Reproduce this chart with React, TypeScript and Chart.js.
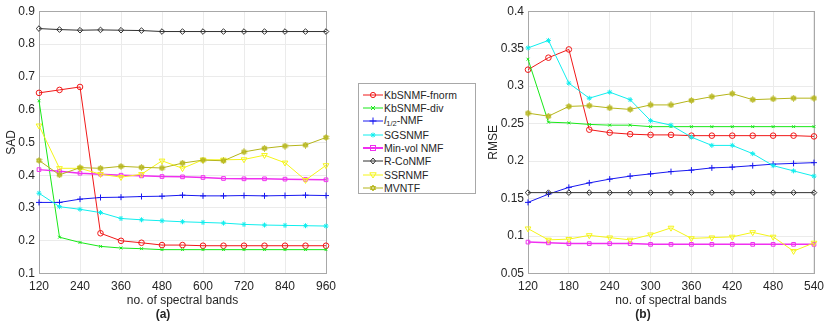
import React, { useEffect, useRef } from 'react';
import { Chart, registerables } from 'chart.js';
Chart.register(...registerables);

// ---------- data ----------
const sadBands = [120, 180, 240, 300, 360, 420, 480, 540, 600, 660, 720, 780, 840, 900, 960];
const rmseBands = [120, 150, 180, 210, 240, 270, 300, 330, 360, 390, 420, 450, 480, 510, 540];

const seriesNames = ['KbSNMF-fnorm', 'KbSNMF-div', 'l1/2-NMF', 'SGSNMF', 'Min-vol NMF', 'R-CoNMF', 'SSRNMF', 'MVNTF'];

const sadFnorm = [0.651, 0.660, 0.669, 0.223, 0.200, 0.194, 0.187, 0.187, 0.185, 0.185, 0.185, 0.185, 0.185, 0.185, 0.185];
const sadDiv = [0.627, 0.211, 0.195, 0.183, 0.178, 0.176, 0.173, 0.173, 0.173, 0.173, 0.173, 0.173, 0.173, 0.173, 0.173];
const sadL12 = [0.317, 0.317, 0.327, 0.332, 0.333, 0.335, 0.336, 0.339, 0.337, 0.337, 0.338, 0.337, 0.338, 0.339, 0.338];
const sadSgs = [0.345, 0.304, 0.296, 0.286, 0.268, 0.264, 0.261, 0.258, 0.256, 0.254, 0.250, 0.248, 0.247, 0.246, 0.245];
const sadMinVol = [0.417, 0.412, 0.406, 0.403, 0.400, 0.398, 0.396, 0.395, 0.393, 0.390, 0.389, 0.389, 0.388, 0.387, 0.386];
const sadRCo = [0.847, 0.844, 0.842, 0.843, 0.842, 0.841, 0.838, 0.838, 0.838, 0.838, 0.838, 0.838, 0.838, 0.838, 0.838];
const sadSsr = [0.551, 0.421, 0.421, 0.403, 0.394, 0.403, 0.444, 0.421, 0.447, 0.447, 0.448, 0.461, 0.438, 0.385, 0.430];
const sadMvntf = [0.445, 0.401, 0.423, 0.421, 0.427, 0.424, 0.422, 0.437, 0.446, 0.444, 0.471, 0.482, 0.489, 0.492, 0.515];

const rmseFnorm = [0.322, 0.338, 0.349, 0.242, 0.238, 0.236, 0.235, 0.235, 0.234, 0.234, 0.234, 0.234, 0.234, 0.234, 0.233];
const rmseDiv = [0.336, 0.252, 0.251, 0.249, 0.248, 0.248, 0.246, 0.246, 0.246, 0.246, 0.246, 0.246, 0.246, 0.246, 0.246];
const rmseL12 = [0.145, 0.156, 0.165, 0.171, 0.176, 0.180, 0.183, 0.186, 0.188, 0.191, 0.192, 0.194, 0.196, 0.197, 0.198];
const rmseSgs = [0.351, 0.361, 0.304, 0.284, 0.292, 0.282, 0.254, 0.248, 0.232, 0.221, 0.221, 0.210, 0.194, 0.187, 0.180];
const rmseMinVol = [0.092, 0.091, 0.090, 0.090, 0.090, 0.090, 0.089, 0.089, 0.089, 0.089, 0.089, 0.089, 0.089, 0.089, 0.089];
const rmseRCo = [0.158, 0.158, 0.158, 0.158, 0.158, 0.158, 0.158, 0.158, 0.158, 0.158, 0.158, 0.158, 0.158, 0.158, 0.158];
const rmseSsr = [0.110, 0.095, 0.096, 0.101, 0.098, 0.095, 0.102, 0.111, 0.097, 0.098, 0.099, 0.105, 0.099, 0.080, 0.091];
const rmseMvntf = [0.264, 0.260, 0.273, 0.274, 0.271, 0.269, 0.275, 0.275, 0.281, 0.286, 0.290, 0.282, 0.283, 0.284, 0.284];

// ---------- styles ----------
const COLORS = ['#f01818', '#18e818', '#1818f0', '#10eeee', '#f030f0', '#303030', '#f5f518', '#b5b51a'];
const FONT = "'Liberation Sans', Arial, sans-serif";
const TEXT = '#262626';

function makeHexagram(color: string): HTMLCanvasElement {
  const c = document.createElement('canvas');
  c.width = 7; c.height = 7;
  const ctx = c.getContext('2d')!;
  const cx = 3.5, cy = 3.5, r = 3.0;
  ctx.strokeStyle = color; ctx.fillStyle = color; ctx.lineWidth = 0.9;
  for (let t = 0; t < 2; t++) {
    ctx.beginPath();
    for (let k = 0; k < 3; k++) {
      const a = (-90 + t * 180 + k * 120) * Math.PI / 180;
      const x = cx + r * Math.cos(a), y = cy + r * Math.sin(a);
      if (k === 0) ctx.moveTo(x, y); else ctx.lineTo(x, y);
    }
    ctx.closePath();
    ctx.globalAlpha = 0.4; ctx.fill();
    ctx.globalAlpha = 1; ctx.stroke();
  }
  return c;
}

function buildDatasets(xs: number[], series: number[][], hex: HTMLCanvasElement) {
  const styles: any[] = [
    { pointStyle: 'circle', pointRadius: 2.8 },
    { pointStyle: 'crossRot', pointRadius: 2 },
    { pointStyle: 'cross', pointRadius: 3 },
    { pointStyle: 'star', pointRadius: 2.5 },
    { pointStyle: 'rect', pointRadius: 2.6 },
    { pointStyle: 'rectRot', pointRadius: 2.8 },
    { pointStyle: 'triangle', pointRadius: 3.3, pointRotation: 180 },
    { pointStyle: hex, pointRadius: 3.5 },
  ];
  return series.map((vals, i) => ({
    label: seriesNames[i],
    data: vals.map((v, j) => ({ x: xs[j], y: v })),
    borderColor: COLORS[i],
    backgroundColor: COLORS[i],
    pointBorderColor: COLORS[i],
    pointBackgroundColor: 'rgba(0,0,0,0)',
    borderWidth: i === 4 ? 1.5 : 1,
    pointBorderWidth: 1,
    tension: 0,
    clip: false,
    order: 8 - i,
    ...styles[i],
  }));
}

const boxPlugin = {
  id: 'boxPlugin',
  beforeDatasetsDraw(chart: any) {
    const { ctx, chartArea: a } = chart;
    ctx.save();
    ctx.strokeStyle = '#a8a8a8';
    ctx.lineWidth = 1;
    ctx.strokeRect(Math.round(a.left) + 0.5, Math.round(a.top) + 0.5, Math.round(a.right - a.left), Math.round(a.bottom - a.top));
    ctx.restore();
  },
};

function makeConfig(opts: {
  xs: number[]; series: number[][]; xMax: number; xStep: number;
  yMin: number; yMax: number; yStep: number; yTitle: string; yWidth: number; yTitlePad: number; sub: string; padRight: number;
}, hex: HTMLCanvasElement): any {
  return {
    type: 'line',
    data: { datasets: buildDatasets(opts.xs, opts.series, hex) },
    plugins: [boxPlugin],
    options: {
      animation: false,
      responsive: false,
      layout: { padding: { left: 0, right: opts.padRight, top: 9, bottom: 2 } },
      plugins: {
        legend: { display: false },
        tooltip: { enabled: false },
        title: { display: false },
        subtitle: {
          display: true, position: 'bottom', text: opts.sub, color: TEXT,
          font: { family: FONT, size: 12, weight: 'bold' }, padding: { top: 0, bottom: 0 },
        },
      },
      scales: {
        x: {
          type: 'linear', min: 120, max: opts.xMax,
          afterFit: (s: any) => { s.height = 34; },
          ticks: { stepSize: opts.xStep, color: TEXT, padding: 6, font: { family: FONT, size: 12 }, maxRotation: 0 },
          grid: { color: '#ebebeb', drawTicks: false },
          border: { display: false },
          title: { display: true, text: 'no. of spectral bands', color: TEXT, font: { family: FONT, size: 12 }, padding: { top: 0, bottom: 0 } },
        },
        y: {
          type: 'linear', min: opts.yMin, max: opts.yMax,
          afterFit: (s: any) => { s.width = opts.yWidth; },
          ticks: {
            stepSize: opts.yStep, color: TEXT, padding: 4, font: { family: FONT, size: 12 },
            callback: (v: number) => String(Number(v.toFixed(2))),
          },
          grid: { color: '#ebebeb', drawTicks: false },
          border: { display: false },
          title: { display: true, text: opts.yTitle, color: TEXT, font: { family: FONT, size: 12 }, padding: { top: opts.yTitlePad, bottom: 0 } },
        },
      },
    },
  };
}

function ChartCanvas({ cfg, left, width }: { cfg: any; left: number; width: number }) {
  const ref = useRef<HTMLCanvasElement>(null);
  useEffect(() => {
    const hex = makeHexagram(COLORS[7]);
    const chart = new Chart(ref.current!, makeConfig(cfg, hex));
    return () => chart.destroy();
  }, []);
  return <canvas ref={ref} width={width} height={324} style={{ position: 'absolute', left, top: 0, width, height: 324 }} />;
}

function Marker({ i }: { i: number }) {
  const c = COLORS[i];
  const cx = 10, cy = 6;
  switch (i) {
    case 0: return <circle cx={cx} cy={cy} r={2.6} fill="none" stroke={c} strokeWidth={1} />;
    case 1: return <path d={`M${cx - 2} ${cy - 2}L${cx + 2} ${cy + 2}M${cx - 2} ${cy + 2}L${cx + 2} ${cy - 2}`} stroke={c} strokeWidth={1} />;
    case 2: return <path d={`M${cx} ${cy - 3.5}L${cx} ${cy + 3.5}M${cx - 3.5} ${cy}L${cx + 3.5} ${cy}`} stroke={c} strokeWidth={1} />;
    case 3: return <path d={`M${cx} ${cy - 2.5}L${cx} ${cy + 2.5}M${cx - 2.5} ${cy}L${cx + 2.5} ${cy}M${cx - 1.8} ${cy - 1.8}L${cx + 1.8} ${cy + 1.8}M${cx - 1.8} ${cy + 1.8}L${cx + 1.8} ${cy - 1.8}`} stroke={c} strokeWidth={1} />;
    case 4: return <rect x={cx - 2.5} y={cy - 2.5} width={5} height={5} fill="none" stroke={c} strokeWidth={1} />;
    case 5: return <path d={`M${cx} ${cy - 3}L${cx + 2.5} ${cy}L${cx} ${cy + 3}L${cx - 2.5} ${cy}Z`} fill="none" stroke={c} strokeWidth={1} />;
    case 6: return <path d={`M${cx - 3.2} ${cy - 2.2}L${cx + 3.2} ${cy - 2.2}L${cx} ${cy + 3}Z`} fill="none" stroke={c} strokeWidth={1} />;
    default: return <path d={`M${cx} ${cy - 3}L${cx + 2.6} ${cy + 1.5}L${cx - 2.6} ${cy + 1.5}ZM${cx} ${cy + 3}L${cx + 2.6} ${cy - 1.5}L${cx - 2.6} ${cy - 1.5}Z`} fill={c} fillOpacity={0.4} stroke={c} strokeWidth={0.9} />;
  }
}

function Legend() {
  return (
    <div style={{
      position: 'absolute', left: 358, top: 83, width: 118, height: 111, boxSizing: 'border-box',
      border: '1px solid #a8a8a8', background: '#fff', fontFamily: FONT, fontSize: 10.5, color: TEXT,
    }}>
      {seriesNames.map((name, i) => (
        <div key={name} style={{ position: 'absolute', left: 4, top: 4.3 + i * 13.3, height: 13, display: 'flex', alignItems: 'center', whiteSpace: 'nowrap' }}>
          <svg width={20} height={12} style={{ marginRight: 1 }}>
            <line x1={0} y1={6} x2={20} y2={6} stroke={COLORS[i]} strokeWidth={i === 4 ? 2 : 1} />
            <Marker i={i} />
          </svg>
          {i === 2 ? (
            <span><i>l</i><sub style={{ fontSize: 7.5, verticalAlign: -2 }}>1/2</sub>-NMF</span>
          ) : <span>{name}</span>}
        </div>
      ))}
    </div>
  );
}

export default function App() {
  const left = {
    xs: sadBands, series: [sadFnorm, sadDiv, sadL12, sadSgs, sadMinVol, sadRCo, sadSsr, sadMvntf],
    xMax: 960, xStep: 120, yMin: 0.1, yMax: 0.9, yStep: 0.1, yTitle: 'SAD', yWidth: 39, yTitlePad: 4, sub: '(a)', padRight: 19,
  };
  const right = {
    xs: rmseBands, series: [rmseFnorm, rmseDiv, rmseL12, rmseSgs, rmseMinVol, rmseRCo, rmseSsr, rmseMvntf],
    xMax: 540, xStep: 60, yMin: 0.05, yMax: 0.4, yStep: 0.05, yTitle: 'RMSE', yWidth: 58, yTitlePad: 16, sub: '(b)', padRight: 14,
  };
  return (
    <div style={{ position: 'fixed', left: 0, top: 0, width: 830, height: 324, background: '#fff', overflow: 'hidden' }}>
      <ChartCanvas cfg={left} left={0} width={345} />
      <ChartCanvas cfg={right} left={470} width={360} />
      <Legend />
    </div>
  );
}
